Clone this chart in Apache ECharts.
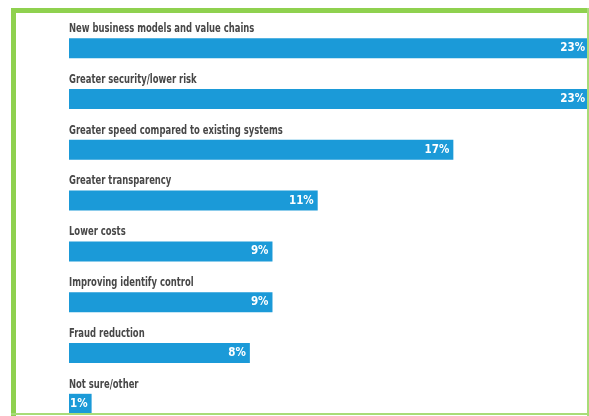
<!DOCTYPE html>
<html>
<head>
<meta charset="utf-8">
<script src="https://cdn.jsdelivr.net/npm/echarts@6/dist/echarts.min.js"></script>
<style>html,body{margin:0;padding:0;background:#fff}#c{width:589px;height:416px}</style>
</head>
<body>
<div id="c"></div>
<script>
const categories = [
  'New business models and value chains',
  'Greater security/lower risk',
  'Greater speed compared to existing systems',
  'Greater transparency',
  'Lower costs',
  'Improving identify control',
  'Fraud reduction',
  'Not sure/other'
];
const values = [23, 23, 17, 11, 9, 9, 8, 1];

const FONT = '"DejaVu Sans Condensed","DejaVu Sans",sans-serif';
const chart = echarts.init(document.getElementById('c'), null, {renderer: 'canvas'});
const border = [
  {type: 'rect', z: 100, shape: {x: 11, y: 8, width: 5, height: 408}, style: {fill: '#8fd14f'}},
  {type: 'rect', z: 100, shape: {x: 11, y: 8, width: 578, height: 5}, style: {fill: '#8fd14f'}},
  {type: 'rect', z: 100, shape: {x: 587, y: 8, width: 2, height: 408}, style: {fill: '#a8dc78'}},
  {type: 'rect', z: 100, shape: {x: 11, y: 413, width: 578, height: 2}, style: {fill: '#a8dc78'}}
];
chart.setOption({
  animation: false,
  backgroundColor: '#ffffff',
  grid: {left: 69, right: 0, top: 22.8, height: 406.4, containLabel: false, outerBoundsMode: 'none'},
  xAxis: {type: 'value', min: 0, max: 23, show: false},
  yAxis: {
    type: 'category', data: categories, inverse: true,
    axisLine: {show: false}, axisTick: {show: false}, splitLine: {show: false},
    axisLabel: {show: false}
  },
  series: [{
    type: 'bar', data: values, barWidth: 20,
    itemStyle: {color: '#1b9ad8'},
    label: {
      show: true, position: 'insideRight', distance: 4,
      formatter: p => p.value + '%',
      color: '#ffffff', fontFamily: FONT, fontSize: 11.5, fontWeight: 'bold'
    }
  }],
  graphic: border
});

// Category titles above each bar, positioned through the category axis
const titles = categories.map((c, i) => {
  const yc = chart.convertToPixel({yAxisIndex: 0}, i);
  const xl = chart.convertToPixel({xAxisIndex: 0}, 0);
  return {
    type: 'text', z: 50, x: xl, y: yc - 19.5, scaleX: 0.75,
    style: {
      text: c, fill: '#474747', font: 'bold 12.5px ' + FONT,
      verticalAlign: 'middle', align: 'left'
    }
  };
});
chart.setOption({graphic: border.concat(titles)});
</script>
</body>
</html>
